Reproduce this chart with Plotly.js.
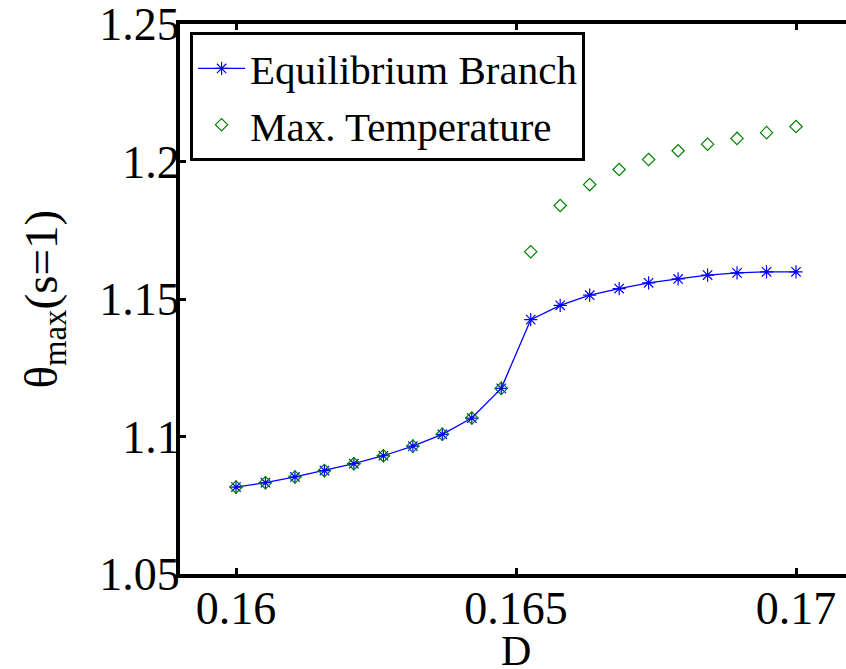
<!DOCTYPE html>
<html>
<head>
<meta charset="utf-8">
<script src="https://cdn.plot.ly/plotly-3.0.1.min.js"></script>
<style>
  html, body { margin: 0; padding: 0; overflow: hidden; background: #fff; }
  #chart { width: 860px; height: 669px; }
</style>
</head>
<body>
<div id="chart"></div>
<script>
// Parameter D sampled at 20 equally spaced values between 0.16 and 0.17
const dValues = [
  0.160000, 0.160526, 0.161053, 0.161579, 0.162105,
  0.162632, 0.163158, 0.163684, 0.164211, 0.164737,
  0.165263, 0.165789, 0.166316, 0.166842, 0.167368,
  0.167895, 0.168421, 0.168947, 0.169474, 0.170000
];

// theta_max at s=1 along the equilibrium branch
const equilibriumBranch = [
  1.0816, 1.0832, 1.0853, 1.0876, 1.0901,
  1.0930, 1.0965, 1.1008, 1.1067, 1.1175,
  1.1425, 1.1477, 1.1514, 1.1538, 1.1559,
  1.1573, 1.1587, 1.1595, 1.1599, 1.1599
];

// maximum temperature reached in the transient runs
const maxTemperature = [
  1.0816, 1.0832, 1.0853, 1.0876, 1.0901,
  1.0930, 1.0965, 1.1008, 1.1067, 1.1175,
  1.1672, 1.1840, 1.1916, 1.1971, 1.2007,
  1.2039, 1.2063, 1.2084, 1.2105, 1.2127
];

const xTickVals = [0.16, 0.165, 0.17];
const xTickText = ['0.16', '0.165', '0.17'];
const yTickVals = [1.05, 1.1, 1.15, 1.2, 1.25];
const yTickText = ['1.05', '1.1', '1.15', '1.2', '1.25'];

const serif = 'Liberation Serif';

const traces = [
  {
    x: dValues,
    y: equilibriumBranch,
    type: 'scatter',
    mode: 'lines+markers',
    name: 'Equilibrium Branch',
    line: { color: 'rgb(0,0,255)', width: 1.3 },
    marker: { symbol: 'asterisk-open', size: 11, color: 'rgb(0,0,255)', line: { color: 'rgb(0,0,255)', width: 1.2 } }
  },
  {
    x: dValues,
    y: maxTemperature,
    type: 'scatter',
    mode: 'markers',
    name: 'Max. Temperature',
    marker: { symbol: 'diamond-open', size: 9.5, color: 'rgb(0,128,0)', line: { color: 'rgb(0,128,0)', width: 1.2 } }
  }
];

const axisCommon = {
  showgrid: false,
  zeroline: false,
  showline: true,
  linecolor: '#000',
  linewidth: 4,
  mirror: 'ticks',
  ticks: 'inside',
  ticklen: 6,
  tickwidth: 3,
  tickcolor: '#000',
  tickfont: { family: serif, size: 46, color: '#000' },
  tickmode: 'array',
  ticklabeloverflow: 'allow'
};

const layout = {
  width: 860,
  height: 669,
  margin: { l: 180, r: 8, t: 24, b: 95 },
  font: { family: serif, size: 40, color: '#000' },
  paper_bgcolor: '#fff',
  plot_bgcolor: '#fff',
  showlegend: true,
  xaxis: Object.assign({}, axisCommon, {
    range: [0.159, 0.171],
    tickvals: xTickVals,
    ticktext: xTickText,
    ticklabelstandoff: -9
  }),
  yaxis: Object.assign({}, axisCommon, {
    range: [1.05, 1.25],
    tickvals: yTickVals,
    ticktext: yTickText,
    ticklabelstandoff: -13
  }),
  legend: {
    x: 0.015, y: 0.985,
    xanchor: 'left', yanchor: 'top',
    bgcolor: '#fff',
    bordercolor: '#000',
    borderwidth: 3,
    itemwidth: 47,
    font: { family: serif, size: 41, color: '#000' },
    tracegroupgap: 0
  },
  annotations: [
    {
      text: 'D',
      xref: 'paper', yref: 'paper',
      x: 0.5, y: -0.14,
      xanchor: 'center', yanchor: 'middle',
      showarrow: false,
      font: { family: serif, size: 42, color: '#000' }
    },
    {
      text: 'θ<sub>max</sub>(s=1)',
      xref: 'paper', yref: 'paper',
      x: -0.203, y: 0.5,
      xanchor: 'center', yanchor: 'middle',
      textangle: -90,
      showarrow: false,
      font: { family: serif, size: 47, color: '#000' }
    }
  ]
};

Plotly.newPlot('chart', traces, layout, { displayModeBar: false, staticPlot: true });
</script>
</body>
</html>
